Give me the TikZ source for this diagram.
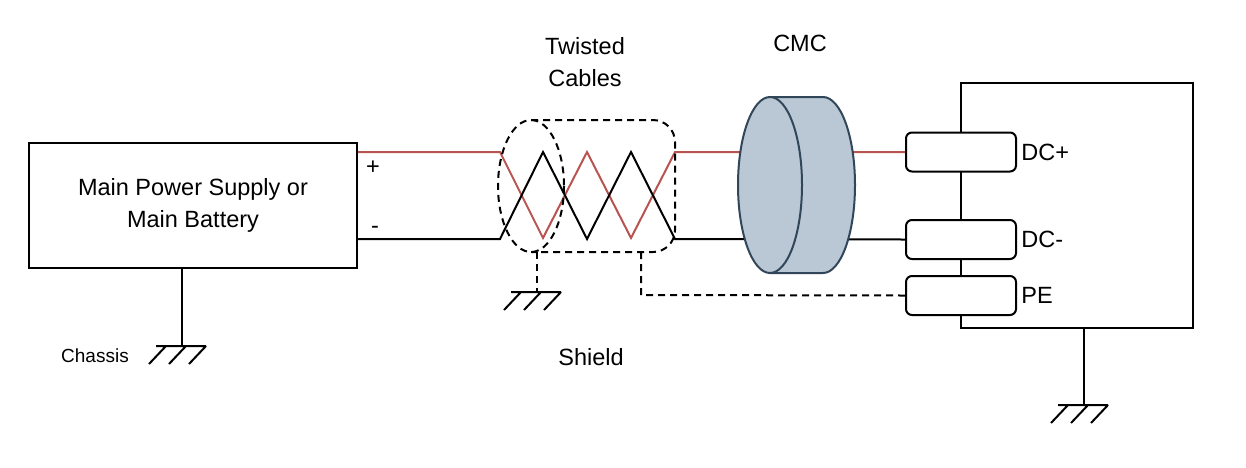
\documentclass[tikz,border=0pt]{standalone}
\usepackage{fontspec}
\setmainfont{Liberation Sans}
\usetikzlibrary{positioning}
\definecolor{wirered}{RGB}{184,84,80}
\definecolor{cmcfill}{RGB}{185,200,212}
\definecolor{cmcline}{RGB}{50,70,90}
\tikzset{main box/.style={draw,minimum width=328pt,minimum height=125pt,align=center,font=\fontsize{23.5}{32}\selectfont},
  term node/.style={draw,rounded corners=6pt,fill=white,minimum width=110pt,minimum height=39pt,inner sep=0pt},
  lbl/.style={font=\fontsize{23.5}{32}\selectfont,align=center},
  shield line/.style={dash pattern=on 7pt off 5pt},
  gnd/.pic={\draw[solid] (-26,0) -- (24,0)
      (-16,0) -- ++(-17,18) (4,0) -- ++(-17,18) (24,0) -- ++(-17,18);},
}

\begin{document}
\begin{tikzpicture}[x=1pt,y=-1pt,line width=2pt]
	\useasboundingbox (0,0) rectangle (1246,467);
	\node[main box] (psu) at (193,205.5) {Main Power Supply or\\Main Battery};
	\draw (1193,83) rectangle (961,328);
	\node[term node] (dcp) at (961,152) {};
	\node[term node] (dcm) at (961,239.5) {};
	\node[term node] (pe) at (961,295.5) {};
	\node[lbl,anchor=west] at (dcp.east) {DC+};
	\node[lbl,anchor=west] at (dcm.east) {DC-};
	\node[lbl,anchor=west] at (pe.east) {PE};
	\node[lbl] (plus) at (373,168) {+};
	\node[lbl] (minus) at (375,230) {-};
	\node[lbl] (twist) at (585,62) {Twisted\\Cables};
	\node[lbl] (cmclbl) at (800,43) {CMC};
	\node[lbl] (shield) at (591,357) {Shield};
	\node[font=\fontsize{19}{22}\selectfont] (chassis) at (95,356) {Chassis};
	% wires
	\draw[wirered] (psu.east |- 0,152) -- (500,152) -- (543,238) -- (587,152) -- (631,238) -- (675,152) -- (dcp.west);
	\draw (psu.east |- 0,239) -- (500,239) -- (543,152) -- (587,239) -- (631,152) -- (675,239) -- (dcm.west);
	% shield
	\draw[shield line] (531,186) ellipse [x radius=33, y radius=66];
	\draw[shield line,rounded corners=22pt] (531,120) -- (675,120) -- (675,252) -- (531,252);
	\draw[shield line] (537,252) -- (537,292);
	\pic at (537,292) {gnd};
	\draw[shield line] (641,252) -- (641,295) -- (pe.west);
	% cmc
	\draw[cmcline,fill=cmcfill] (770,97) -- (823,97) arc[start angle=-90,end angle=90,x radius=32,y radius=88] -- (770,273);
	\draw[cmcline,fill=cmcfill] (770,185) ellipse [x radius=32, y radius=88];
	% grounds
	\draw (182,268) -- (182,346);
	\pic at (182,346) {gnd};
	\draw (1084,328) -- (1084,405);
	\pic at (1084,405) {gnd};
\end{tikzpicture}
\end{document}
